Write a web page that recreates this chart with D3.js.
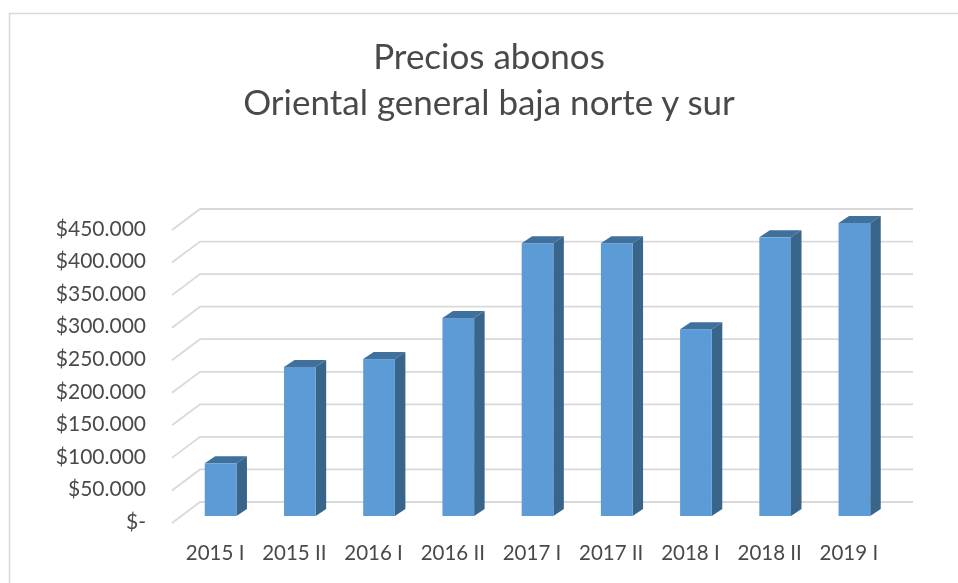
<!DOCTYPE html>
<html><head><meta charset="utf-8">
<script src="https://cdn.jsdelivr.net/npm/d3@7/dist/d3.min.js"></script>
<style>html,body{margin:0;padding:0;background:#fff}svg{display:block}text{font-family:Lato,"Open Sans",sans-serif}</style>
</head><body><div id="c"></div>
<script>
const categories=["2015 I","2015 II","2016 I","2016 II","2017 I","2017 II","2018 I","2018 II","2019 I"];
const precios=[81000,229000,241000,304000,419000,419000,287000,428000,450000];
const tickValues=[0,50000,100000,150000,200000,250000,300000,350000,400000,450000];
const tickLabels=["$-","$50.000","$100.000","$150.000","$200.000","$250.000","$300.000","$350.000","$400.000","$450.000"];
const titleLines=["Precios abonos","Oriental general baja norte y sur"];

const W=958,H=583;
const svg=d3.select("#c").append("svg").attr("width",W).attr("height",H);
const defs=svg.append("defs");
defs.append("filter").attr("id","soft").attr("filterUnits","userSpaceOnUse").attr("x",0).attr("y",0).attr("width",W).attr("height",H)
  .append("feGaussianBlur").attr("stdDeviation",0.55);

svg.append("path").attr("d",`M${W},13.5H9.5V${H}`).attr("fill","none").attr("stroke","#d9d9d9").attr("stroke-width",1.5);

const y=d3.scaleLinear().domain([0,450000]).range([523,230]);
const x=d3.scaleBand().domain(categories).range([181,894]).paddingInner(0.6).paddingOuter(0.3);
const wall={dx:28,dy:-21,right:913,left:172};
const bar={dx:10.5,dy:-7,base:-7};

const g=svg.append("g").attr("filter","url(#soft)");
g.selectAll("path.grid").data(tickValues).join("path").attr("class","grid")
  .attr("d",v=>`M${wall.left},${y(v)}L${wall.left+wall.dx},${y(v)+wall.dy}H${wall.right}`)
  .attr("fill","none").attr("stroke","#d9d9d9").attr("stroke-width",1.8);

const bars=g.selectAll("g.bar").data(categories.map((c,i)=>({c,v:precios[i]}))).join("g").attr("class","bar");
const X=d=>x(d.c), R=d=>x(d.c)+x.bandwidth(), T=d=>y(d.v)+bar.base, B=()=>y(0)+bar.base;
bars.append("path").attr("fill","#3f6f9c").attr("d",d=>`M${X(d)},${T(d)}l${bar.dx},${bar.dy}H${R(d)+bar.dx}l${-bar.dx},${-bar.dy}Z`);
bars.append("path").attr("fill","#396589").attr("d",d=>`M${R(d)},${T(d)}l${bar.dx},${bar.dy}V${B()+bar.dy}l${-bar.dx},${-bar.dy}Z`);
bars.append("rect").attr("fill","#5b9bd5").attr("x",X).attr("y",T).attr("width",x.bandwidth()).attr("height",d=>B()-T(d));

const t=svg.append("g").attr("filter","url(#soft)");
t.selectAll("text.y").data(tickValues).join("text").attr("class","y")
  .attr("x",146).attr("y",v=>y(v)+0.5).attr("text-anchor","end").attr("dominant-baseline","middle")
  .attr("font-size",21).attr("fill","#4a4a4a").text((v,i)=>tickLabels[i]);
t.selectAll("text.x").data(categories).join("text").attr("class","x")
  .attr("x",c=>x(c)+x.bandwidth()/2-5.5).attr("y",560).attr("text-anchor","middle")
  .attr("font-size",20.5).attr("fill","#4a4a4a").text(c=>c);
t.selectAll("text.t").data(titleLines).join("text").attr("class","t")
  .attr("x",489).attr("y",(d,i)=>69+i*46).attr("text-anchor","middle")
  .attr("font-size",35).attr("fill","#4a4a4a").text(d=>d);
</script></body></html>
